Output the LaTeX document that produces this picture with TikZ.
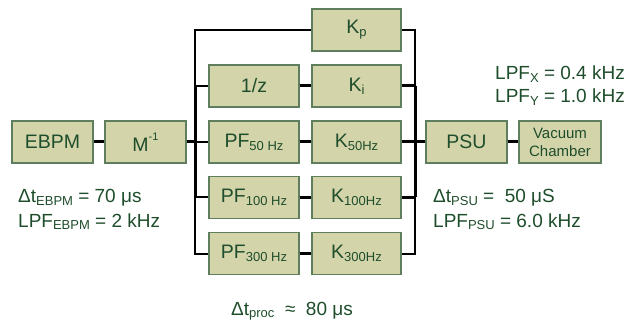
\documentclass[tikz,border=0pt]{standalone}
\usepackage{fontspec}
\setmainfont{Liberation Sans}
\definecolor{boxfill}{HTML}{D4D4AA}
\definecolor{boxline}{HTML}{5E7E5E}
\definecolor{txt}{HTML}{1E4D2B}
\newcommand\lsb[1]{\raisebox{-0.15em}{\fontsize{13}{13}\selectfont #1}}
\newcommand\lsp[1]{\raisebox{0.55em}{\fontsize{11}{11}\selectfont #1}}
\tikzset{
  blk/.style={draw=boxline, fill=boxfill, line width=1.1pt, minimum width=81pt, minimum height=42pt,
    inner sep=0pt, text=txt, font=\fontsize{19.5}{22}\selectfont},
  wblk/.style={blk, minimum width=90pt},
  lab/.style={anchor=base west, inner sep=0pt, text=txt, font=\fontsize{19}{22}\selectfont},
  thk/.style={line width=3pt},
  thn/.style={line width=2pt},
}
\begin{document}
\begin{tikzpicture}[x=1pt, y=-1pt]
\useasboundingbox (0,0) rectangle (629,323);
% boxes
\node[blk] (ebpm) at (52.5,142) {EBPM};
\node[blk] (minv) at (145.5,142) {M\lsp{-1}};
\node[wblk] (onez) at (254,86) {1/z};
\node[wblk] (pf50) at (254,142) {PF\lsb{50 Hz}};
\node[wblk] (pf100) at (254,197.5) {PF\lsb{100 Hz}};
\node[wblk] (pf300) at (254,253.5) {PF\lsb{300 Hz}};
\node[wblk, minimum width=89pt] (kp) at (356.5,30) {K\lsb{p}};
\node[wblk, minimum width=89pt] (ki) at (356.5,86) {K\lsb{i}};
\node[wblk, minimum width=89pt] (k50) at (356.5,142) {K\lsb{50Hz}};
\node[wblk, minimum width=89pt] (k100) at (356.5,197.5) {K\lsb{100Hz}};
\node[wblk, minimum width=89pt] (k300) at (356.5,253.5) {K\lsb{300Hz}};
\node[blk] (psu) at (466.5,142) {PSU};
\node[blk, minimum width=82pt, align=center, font=\fontsize{15}{18}\selectfont] (vac) at (560,142) {Vacuum\\Chamber};
% bus coordinates
\coordinate (lb2) at (195,86);
\coordinate (lb3) at (195,142);
\coordinate (lb4) at (195,197.5);
\coordinate (lb5) at (195,253.5);
\coordinate (rb2) at (415,86);
\coordinate (rb3) at (415,142);
\coordinate (rb4) at (415,197.5);
\coordinate (rb5) at (415,253.5);
% left bus
\draw[thn] (kp.west) -| (lb5) -- (pf300.west);
\draw[thk] (lb2) -- (lb4);
\draw[thn] (lb2) -- (onez.west);
\draw[thn] (lb3) -- (pf50.west);
\draw[thn] (lb4) -- (pf100.west);
\draw[thk] (minv.east) -- (lb3);
% right bus
\draw[thn] (kp.east) -| (rb5) -- (k300.east);
\draw[thk] (rb2) -- (rb4);
\draw[thk] (ki.east) -- (rb2);
\draw[thk] (k50.east) -- (rb3);
\draw[thk] (k100.east) -- (rb4);
\draw[thk] (rb3) -- (psu.west);
% series
\draw[thk] (ebpm) -- (minv);
\draw[thk] (onez) -- (ki);
\draw[thk] (pf50) -- (k50);
\draw[thk] (pf100) -- (k100);
\draw[thk] (pf300) -- (k300);
\draw[thk] (psu) -- (vac);
% labels
\node[lab] (lx) at (495,80) {LPF\lsb{X} = 0.4 kHz};
\node[lab] (ly) at (495,103) {LPF\lsb{Y} = 1.0 kHz};
\node[lab] (te) at (18,203) {Δt\lsb{EBPM} = 70 μs};
\node[lab] (le) at (18,227) {LPF\lsb{EBPM} = 2 kHz};
\node[lab] (tp) at (433,203) {Δt\lsb{PSU} =\ \ 50 μS};
\node[lab] (lp) at (433,227) {LPF\lsb{PSU} = 6.0 kHz};
\node[lab] (tproc) at (231,315) {Δt\lsb{proc}\ \ ≈\ \ 80 μs};
\end{tikzpicture}
\end{document}
